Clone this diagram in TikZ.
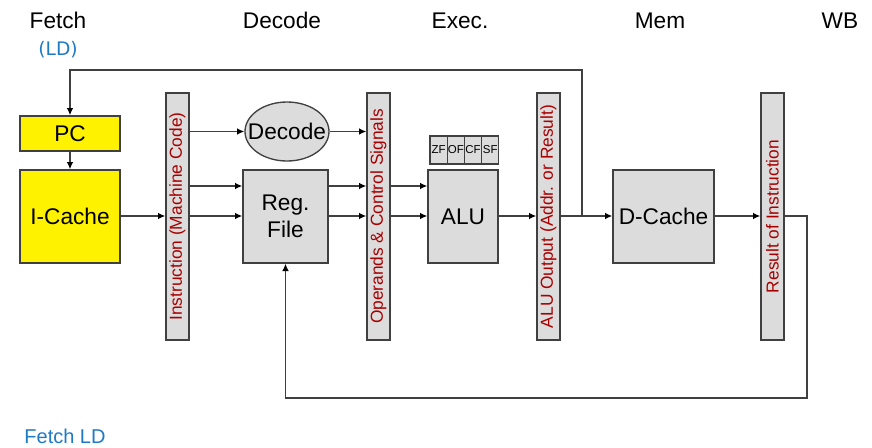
\documentclass[tikz,border=0pt]{standalone}
\usepackage{fontspec}
\setmainfont{Liberation Sans}
\newfontfamily\dejavu{DejaVu Sans}
\usetikzlibrary{arrows.meta,shapes.geometric}
\definecolor{boxgray}{HTML}{DCDCDC}
\definecolor{edgegray}{HTML}{404040}
\definecolor{latchred}{HTML}{A80000}
\definecolor{stageblue}{HTML}{1F7AC4}
\begin{document}
\begin{tikzpicture}[x=0.75pt,y=-0.75pt]
\tikzstyle{unit}=[draw=edgegray,line width=1pt,fill=boxgray,minimum width=63.75pt,minimum height=69.75pt,inner sep=0pt,align=center,font=\fontsize{17}{20}\selectfont]
\tikzstyle{fetchunit}=[unit,fill=yellow,minimum width=75pt]
\tikzstyle{latch}=[draw=edgegray,line width=1pt,fill=boxgray,minimum width=17.25pt,minimum height=185.25pt,inner sep=0pt]
\tikzstyle{latchtext}=[rotate=90,text=latchred,font=\fontsize{13}{15}\selectfont]
\tikzstyle{flag}=[draw=edgegray,line width=0.8pt,fill=boxgray,minimum width=12.9pt,minimum height=21pt,inner sep=0pt,font=\fontsize{8.6}{9}\selectfont]
\tikzstyle{stage}=[anchor=base,font=\fontsize{17}{20}\selectfont]
\tikzstyle{arr}=[draw=edgegray,line width=1pt,-{Latex[length=5.5pt,width=5pt,black]}]
\useasboundingbox (0,0) rectangle (872,447);
% stage names
\node[stage](sfetch) at (58,28) {Fetch};
\node[stage](sdec) at (282,28) {Decode};
\node[stage](sexec) at (460,28) {Exec.};
\node[stage](smem) at (660,28) {Mem};
\node[stage](swb) at (840,28) {WB};
\node[anchor=base,text=stageblue,font=\dejavu\fontsize{14}{16}\selectfont](ld) at (58,55) {(LD)};
\node[anchor=base,text=stageblue,font=\fontsize{15}{18}\selectfont](fetchld) at (65,443) {Fetch LD};
% fetch
\node[fetchunit,minimum height=26.25pt](pc) at (70,133.5) {PC};
\node[fetchunit](icache) at (70,216.5) {I-Cache};
% pipeline latches
\node[latch](instr) at (177.5,216.5) {};
\node[latchtext] at (instr) {Instruction (Machine Code)};
\node[latch](opnd) at (378.5,216.5) {};
\node[latchtext] at (opnd) {Operands \& Control Signals};
\node[latch](aluout) at (548.5,216.5) {};
\node[latchtext] at (aluout) {ALU Output (Addr. or Result)};
\node[latch](wb) at (772.5,216.5) {};
\node[latchtext] at (wb) {Result of Instruction};
% decode / execute / memory units
\node[ellipse,draw=edgegray,line width=1pt,fill=boxgray,minimum width=63pt,minimum height=44.25pt,inner sep=0pt](dec) at (287,131.5) {};
\node[font=\fontsize{17}{20}\selectfont,inner sep=0pt] at (dec) {Decode};
\node[unit](regf) at (285.5,216.5) {Reg.\\File};
\node[unit,minimum width=52.5pt](alu) at (463,216.5) {ALU};
\node[unit,minimum width=75.75pt](dcache) at (663.5,216.5) {D-Cache};
\node[flag](zf) at (438.6,150) {ZF};
\node[flag](of) at (455.8,150) {OF};
\node[flag](cf) at (473,150) {CF};
\node[flag](sf) at (490.2,150) {SF};
% wire levels
\coordinate (upper) at (0,186);
\coordinate (lower) at (0,216);
\coordinate (tap) at (582,216);
\coordinate (topleft) at (70,70);
\coordinate (loopcorner) at (807,398);
\draw[arr] (pc) -- (icache);
\draw[arr] (icache.east |- lower) -- (instr.west |- lower);
\draw[arr] (instr.east |- dec.west) -- (dec.west);
\draw[arr] (instr.east |- upper) -- (regf.west |- upper);
\draw[arr] (instr.east |- lower) -- (regf.west |- lower);
\draw[arr] (dec.east) -- (opnd.west |- dec.east);
\draw[arr] (regf.east |- upper) -- (opnd.west |- upper);
\draw[arr] (regf.east |- lower) -- (opnd.west |- lower);
\draw[arr] (opnd.east |- upper) -- (alu.west |- upper);
\draw[arr] (opnd.east |- lower) -- (alu.west |- lower);
\draw[arr] (alu.east |- lower) -- (aluout.west |- lower);
\draw[arr] (aluout.east |- lower) -- (dcache.west |- lower);
\draw[arr] (dcache.east |- lower) -- (wb.west |- lower);
% feedback paths
\draw[arr] (tap) |- (topleft) -- (pc.north);
\draw[arr] (wb.east |- lower) -| (loopcorner) -| (regf.south);
\end{tikzpicture}
\end{document}
